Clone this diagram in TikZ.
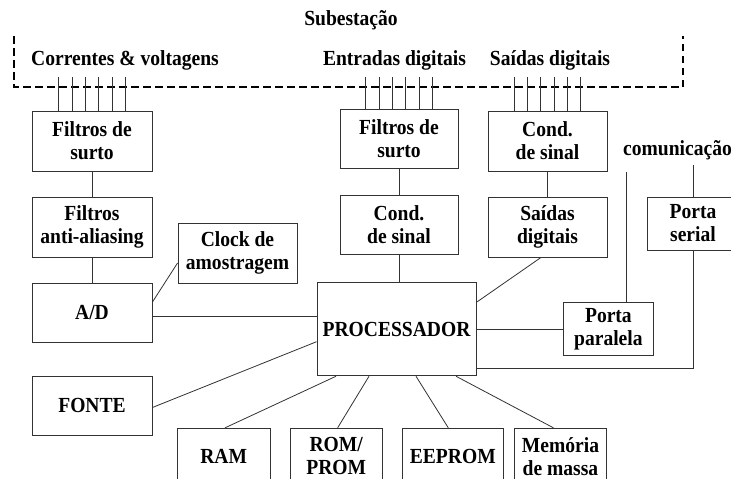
\documentclass[tikz,border=0pt]{standalone}
\usepackage{fontspec}
\setmainfont[FakeStretch=0.91]{Liberation Serif}
\begin{document}
\begin{tikzpicture}[x=1pt,y=-1pt,
  box/.style={draw=black!80, line width=0.9pt, inner sep=0pt, align=center,
    font=\bfseries\fontsize{21.5}{23}\selectfont},
  lbl/.style={inner sep=0pt, anchor=base, font=\bfseries\fontsize{21.5}{23}\selectfont},
  wire/.style={draw=black!80, line width=0.8pt},
  dashframe/.style={draw=black, line width=2.8pt, dash pattern=on 7.5pt off 4.5pt}]
\useasboundingbox (0,0) rectangle (731,479);
\fill[white] (0,0) rectangle (731,479);

% labels
\node[lbl] (sub) at (351,25) {Subestação};
\node[lbl] (cv) at (125,65) {Correntes \& voltagens};
\node[lbl] (ed) at (394.5,65) {Entradas digitais};
\node[lbl] (sdl) at (550,65) {Saídas digitais};
\node[lbl, anchor=base west] (com) at (623,155) {comunicação};

% dashed frame
\coordinate (f1) at (14,36);
\coordinate (f2) at (14,87);
\coordinate (f3) at (683,87);
\coordinate (f4) at (683,36);
\draw[dashframe] (f1) -- (f2) -- (f3) -- (f4);

% boxes
\node[box, minimum width=120pt, minimum height=60pt] (fs1) at (92,141) {Filtros de\\surto};
\node[box, minimum width=120pt, minimum height=60pt] (aa) at (92,227) {Filtros\\anti-aliasing};
\node[box, minimum width=119pt, minimum height=60pt] (clk) at (237.5,253) {Clock de\\amostragem};
\node[box, minimum width=120pt, minimum height=59pt] (ad) at (92,312.5) {A/D};
\node[box, minimum width=120pt, minimum height=59pt] (fonte) at (92,405.5) {FONTE};
\node[box, minimum width=159pt, minimum height=93pt] (proc) at (396.5,329.3) {PROCESSADOR};
\node[box, minimum width=118pt, minimum height=59pt] (fs2) at (399,138.5) {Filtros de\\surto};
\node[box, minimum width=118pt, minimum height=59pt] (cs2) at (399,224.5) {Cond.\\de sinal};
\node[box, minimum width=119pt, minimum height=60pt] (cs3) at (547.5,141) {Cond.\\de sinal};
\node[box, minimum width=119pt, minimum height=60pt] (sd) at (547.5,227) {Saídas\\digitais};
\node[box, minimum width=92pt, minimum height=53pt] (serial) at (693,223.5) {Porta\\serial};
\node[box, minimum width=90pt, minimum height=53pt] (par) at (608.4,329.2) {Porta\\paralela};
\node[box, minimum width=93pt, minimum height=56pt] (ram) at (223.7,456.3) {RAM};
\node[box, minimum width=92pt, minimum height=56pt] (rom) at (336.2,456.3) {ROM/\\PROM};
\node[box, minimum width=101pt, minimum height=56pt] (eep) at (452.8,456.3) {EEPROM};
\node[box, minimum width=92pt, minimum height=56pt] (mem) at (560.5,456.3) {Memória\\de massa};

% input wires
\coordinate (wtop) at (0,77);
\foreach \i in {-2.5,-1.5,...,2.5} {
  \draw[wire] ([xshift=\i*13.33pt]fs1.north) -- ([xshift=\i*13.33pt]fs1.north |- wtop);
  \draw[wire] ([xshift=\i*13.33pt]fs2.north) -- ([xshift=\i*13.33pt]fs2.north |- wtop);
  \draw[wire] ([xshift=\i*13.33pt]cs3.north) -- ([xshift=\i*13.33pt]cs3.north |- wtop);
}

% connectors
\draw[wire] (fs1.south) -- (aa.north);
\draw[wire] (aa.south) -- (ad.north);
\draw[wire] ([yshift=-10pt]clk.west) -- ([yshift=10.5pt]ad.east);
\draw[wire] ([yshift=-3.5pt]ad.east) -- ([yshift=-3.5pt]ad.east -| proc.west);
\draw[wire] ([yshift=-2pt]fonte.east) -- ([yshift=-12.4pt]proc.west);
\draw[wire] (fs2.south) -- (cs2.north);
\draw[wire] (cs2.south) -- (cs2.south |- proc.north);
\draw[wire] (cs3.south) -- (sd.north);
\draw[wire] ([xshift=-6.5pt]sd.south) -- ([yshift=27pt]proc.east);
\draw[wire] (proc.east) -- (proc.east -| par.west);
\coordinate (cpar) at (626.7,171.7);
\draw[wire] ([xshift=18.3pt]par.north) -- (cpar);
\coordinate (cser) at (693,165);
\draw[wire] (serial.north) -- (cser);
\draw[wire] (serial.south) |- ([yshift=-39.4pt]proc.east);
\draw[wire] ([xshift=-60.5pt]proc.south) -- ([xshift=1.3pt]ram.north);
\draw[wire] ([xshift=-27.5pt]proc.south) -- ([xshift=1.4pt]rom.north);
\draw[wire] ([xshift=19.5pt]proc.south) -- ([xshift=-4.5pt]eep.north);
\draw[wire] ([xshift=59.5pt]proc.south) -- ([xshift=-7pt]mem.north);
\end{tikzpicture}
\end{document}
